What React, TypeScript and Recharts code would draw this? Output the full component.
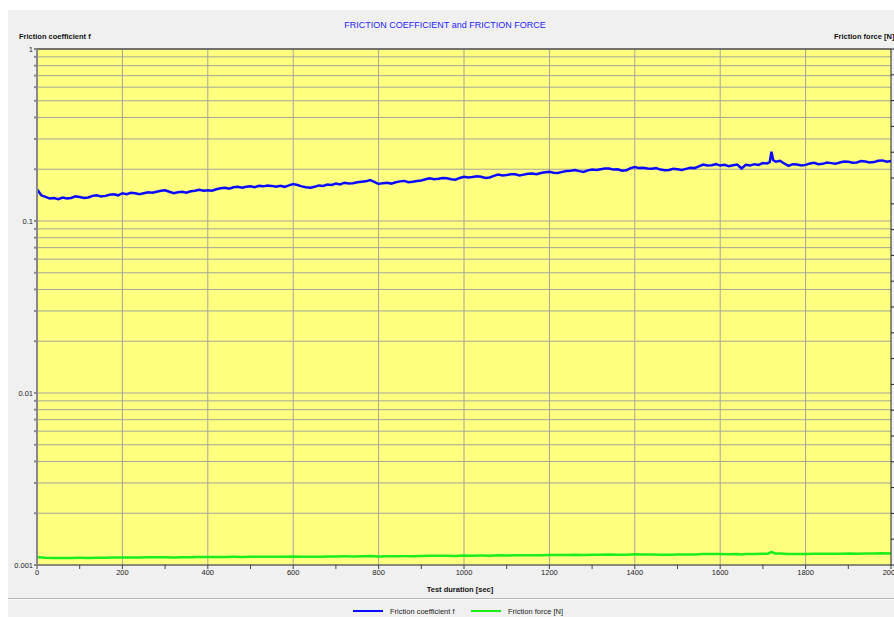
import {
	LineChart,
	Line,
	XAxis,
	YAxis,
	CartesianGrid,
	ReferenceLine,
} from "recharts";

// sample times [sec] for the friction coefficient trace
const coefSeconds = [
	0, 10, 20, 30, 40, 50, 60, 70, 80, 90, 100, 110, 120, 130, 140, 150, 160, 170, 180, 190,
	200, 210, 220, 230, 240, 250, 260, 270, 280, 290, 300, 310, 320, 330, 340, 350, 360, 370, 380, 390,
	400, 410, 420, 430, 440, 450, 460, 470, 480, 490, 500, 510, 520, 530, 540, 550, 560, 570, 580, 590,
	600, 610, 620, 630, 640, 650, 660, 670, 680, 690, 700, 710, 720, 730, 740, 750, 760, 770, 780, 790,
	800, 810, 820, 830, 840, 850, 860, 870, 880, 890, 900, 910, 920, 930, 940, 950, 960, 970, 980, 990,
	1000, 1010, 1020, 1030, 1040, 1050, 1060, 1070, 1080, 1090, 1100, 1110, 1120, 1130, 1140, 1150, 1160, 1170, 1180, 1190,
	1200, 1210, 1220, 1230, 1240, 1250, 1260, 1270, 1280, 1290, 1300, 1310, 1320, 1330, 1340, 1350, 1360, 1370, 1380, 1390,
	1400, 1410, 1420, 1430, 1440, 1450, 1460, 1470, 1480, 1490, 1500, 1510, 1520, 1530, 1540, 1550, 1560, 1570, 1580, 1590,
	1600, 1610, 1620, 1630, 1640, 1650, 1660, 1670, 1680, 1690, 1700, 1710, 1716, 1720, 1724, 1730, 1740, 1750, 1760, 1770,
	1780, 1790, 1800, 1810, 1820, 1830, 1840, 1850, 1860, 1870, 1880, 1890, 1900, 1910, 1920, 1930, 1940, 1950, 1960, 1970,
	1980, 1990, 2000,
];

const frictionCoefficient = [
	0.153, 0.141, 0.138, 0.135, 0.136, 0.134, 0.137, 0.135, 0.136, 0.139, 0.138, 0.136, 0.137, 0.14, 0.141, 0.139, 0.14, 0.142, 0.143, 0.141,
	0.145, 0.143, 0.146, 0.145, 0.143, 0.145, 0.147, 0.146, 0.148, 0.15, 0.151, 0.148, 0.145, 0.147, 0.148, 0.146, 0.149, 0.15, 0.152, 0.15,
	0.151, 0.15, 0.153, 0.155, 0.156, 0.154, 0.157, 0.158, 0.156, 0.158, 0.159, 0.157, 0.16, 0.159, 0.161, 0.16, 0.158, 0.16, 0.158, 0.161,
	0.164, 0.162, 0.159, 0.157, 0.156, 0.158, 0.161, 0.16, 0.163, 0.162, 0.165, 0.163, 0.167, 0.165, 0.166, 0.168, 0.169, 0.17, 0.173, 0.169,
	0.164, 0.166, 0.167, 0.165, 0.168, 0.17, 0.171, 0.168, 0.169, 0.171, 0.172, 0.175, 0.177, 0.175, 0.176, 0.178, 0.177, 0.175, 0.174, 0.178,
	0.181, 0.179, 0.18, 0.182, 0.181, 0.178, 0.179, 0.183, 0.186, 0.184, 0.185, 0.187, 0.187, 0.184, 0.186, 0.188, 0.189, 0.187, 0.19, 0.192,
	0.193, 0.191, 0.19, 0.193, 0.195, 0.196, 0.198, 0.195, 0.193, 0.197, 0.199, 0.198, 0.2, 0.202, 0.202, 0.199, 0.2, 0.196, 0.197, 0.203,
	0.206, 0.203, 0.204, 0.202, 0.201, 0.203, 0.199, 0.197, 0.198, 0.201, 0.2, 0.198, 0.201, 0.204, 0.203, 0.208, 0.213, 0.21, 0.211, 0.214,
	0.21, 0.212, 0.208, 0.211, 0.213, 0.202, 0.212, 0.21, 0.214, 0.212, 0.217, 0.216, 0.22, 0.253, 0.226, 0.221, 0.224, 0.216, 0.209, 0.214,
	0.213, 0.21, 0.212, 0.216, 0.218, 0.214, 0.215, 0.219, 0.217, 0.215, 0.219, 0.222, 0.221, 0.218, 0.219, 0.223, 0.222, 0.219, 0.22, 0.224,
	0.225, 0.221, 0.223,
];

// sample times [sec] for the friction force trace
const forceSeconds = [
	0, 20, 40, 60, 80, 100, 120, 140, 160, 180, 200, 220, 240, 260, 280, 300, 320, 340, 360, 380,
	400, 420, 440, 460, 480, 500, 520, 540, 560, 580, 600, 620, 640, 660, 680, 700, 720, 740, 760, 780,
	800, 820, 840, 860, 880, 900, 920, 940, 960, 980, 1000, 1020, 1040, 1060, 1080, 1100, 1120, 1140, 1160, 1180,
	1200, 1220, 1240, 1260, 1280, 1300, 1320, 1340, 1360, 1380, 1400, 1420, 1440, 1460, 1480, 1500, 1520, 1540, 1560, 1580,
	1600, 1620, 1640, 1650, 1660, 1680, 1700, 1712, 1720, 1728, 1740, 1760, 1780, 1800, 1820, 1840, 1860, 1880, 1900, 1920,
	1940, 1960, 1980, 2000,
];

// friction force [N], right axis
const frictionForce = [
	1.52, 1.4, 1.38, 1.38, 1.37, 1.39, 1.38, 1.41, 1.41, 1.44, 1.46, 1.47, 1.45, 1.48, 1.5, 1.52, 1.47, 1.49, 1.5, 1.53,
	1.53, 1.55, 1.57, 1.58, 1.57, 1.6, 1.61, 1.62, 1.6, 1.6, 1.65, 1.61, 1.58, 1.62, 1.64, 1.66, 1.68, 1.67, 1.7, 1.74,
	1.66, 1.69, 1.7, 1.72, 1.71, 1.74, 1.78, 1.77, 1.78, 1.76, 1.82, 1.81, 1.82, 1.81, 1.87, 1.86, 1.88, 1.87, 1.9, 1.91,
	1.94, 1.92, 1.96, 1.99, 1.95, 2.0, 2.01, 2.03, 2.01, 1.99, 2.07, 2.05, 2.03, 2.01, 2.0, 2.02, 2.03, 2.05, 2.14, 2.12,
	2.12, 2.1, 2.14, 2.05, 2.13, 2.15, 2.18, 2.2, 2.52, 2.23, 2.25, 2.11, 2.14, 2.14, 2.19, 2.17, 2.18, 2.2, 2.22, 2.2,
	2.23, 2.21, 2.26, 2.24,
];

const xTicks = [
	0, 100, 200, 300, 400, 500, 600, 700, 800, 900, 1000, 1100, 1200, 1300, 1400, 1500, 1600, 1700, 1800, 1900, 2000,
];
const xGrid = [200, 400, 600, 800, 1000, 1200, 1400, 1600, 1800];
const logTicks = [
	0.001, 0.002, 0.003, 0.004, 0.005, 0.006, 0.007, 0.008, 0.009,
	0.01, 0.02, 0.03, 0.04, 0.05, 0.06, 0.07, 0.08, 0.09,
	0.1, 0.2, 0.3, 0.4, 0.5, 0.6, 0.7, 0.8, 0.9, 1,
];
const decadeLabels = ["0.001", "0.01", "0.1", "1"];
const forceTicks = [0, 5, 10, 15, 20, 25, 30, 35, 40, 45, 50, 55, 60, 65, 70, 75, 80, 85, 90, 95, 100];

const seriesNames = ["Friction coefficient f", "Friction force [N]"];
const seriesColors = ["#0a0aff", "#1aee1a"];

const coefData = coefSeconds.map((t, i) => ({ t, f: frictionCoefficient[i] }));
const forceData = forceSeconds.map((t, i) => ({ t, force: frictionForce[i] }));

const font = "'Liberation Sans', Arial, sans-serif";
const tickStyle = { fontSize: 7.5, fill: "#222", fontFamily: font };

const fmtLog = (v: number) => {
	const s = String(v);
	return decadeLabels.includes(s) ? s : "";
};

export default function App() {
	return (
		<div
			style={{
				position: "absolute",
				left: 8,
				top: 10,
				width: 886,
				height: 607,
				background: "#f0f0f0",
				overflow: "hidden",
				fontFamily: font,
			}}
		>
			<div
				style={{
					position: "absolute",
					left: 0,
					width: 874,
					top: 10,
					textAlign: "center",
					fontSize: 9,
					color: "#1e1eff",
				}}
			>
				FRICTION COEFFICIENT and FRICTION FORCE
			</div>
			<div style={{ position: "absolute", left: 11, top: 22, fontSize: 7.5, fontWeight: "bold", color: "#111" }}>
				Friction coefficient f
			</div>
			<div
				style={{
					position: "absolute",
					left: 826,
					top: 22,
					fontSize: 7.5,
					fontWeight: "bold",
					color: "#111",
					whiteSpace: "nowrap",
				}}
			>
				Friction force [N]
			</div>

			<div style={{ position: "absolute", left: 0, top: 0 }}>
				<LineChart width={886} height={589} margin={{ top: 39, right: 0, left: 4, bottom: 0 }}>
					<CartesianGrid
						xAxisId="x"
						yAxisId="left"
						vertical={false}
						stroke="#a4a49a"
						fill="#ffff80"
						fillOpacity={1}
					/>
					<XAxis
						xAxisId="x"
						dataKey="t"
						type="number"
						domain={[0, 2000]}
						ticks={xTicks}
						interval={0}
						tickFormatter={(v: number) => (v % 200 === 0 ? String(v) : "")}
						tick={tickStyle}
						tickSize={4}
						tickMargin={1}
						stroke="#444"
						height={34}
						allowDuplicatedCategory={false}
					/>
					<YAxis
						yAxisId="left"
						scale="log"
						type="number"
						domain={[0.001, 1]}
						allowDataOverflow
						ticks={logTicks}
						interval={0}
						tickFormatter={fmtLog}
						tick={tickStyle}
						tickSize={3}
						tickMargin={1}
						stroke="#888"
						strokeWidth={2}
						width={25}
					/>
					<YAxis
						yAxisId="right"
						orientation="right"
						type="number"
						domain={[0, 100]}
						ticks={forceTicks}
						interval={0}
						tickFormatter={() => ""}
						tickSize={3}
						stroke="#222"
						width={3}
					/>
					{xGrid.map((v) => (
						<ReferenceLine key={v} xAxisId="x" yAxisId="left" x={v} stroke="#a4a49a" />
					))}
					<ReferenceLine xAxisId="x" yAxisId="left" y={1} stroke="#555" strokeWidth={1.5} />
					<Line
						data={coefData}
						xAxisId="x"
						yAxisId="left"
						dataKey="f"
						name={seriesNames[0]}
						stroke={seriesColors[0]}
						strokeWidth={2.5}
						dot={false}
						type="linear"
						isAnimationActive={false}
					/>
					<Line
						data={forceData}
						xAxisId="x"
						yAxisId="right"
						dataKey="force"
						name={seriesNames[1]}
						stroke={seriesColors[1]}
						strokeWidth={2.5}
						dot={false}
						type="linear"
						isAnimationActive={false}
					/>
				</LineChart>
			</div>

			<div
				style={{
					position: "absolute",
					left: 352,
					width: 200,
					top: 575,
					textAlign: "center",
					fontSize: 7.5,
					fontWeight: "bold",
					color: "#111",
				}}
			>
				Test duration [sec]
			</div>
			<div style={{ position: "absolute", left: 0, right: 0, top: 588, height: 1, background: "#b8b8b8" }} />
			<div style={{ position: "absolute", left: 0, right: 0, top: 589, height: 1, background: "#fafafa" }} />

			{seriesNames.map((name, i) => (
				<div
					key={name}
					style={{
						position: "absolute",
						left: i === 0 ? 345 : 463,
						top: 596,
						display: "flex",
						alignItems: "center",
						fontSize: 7.5,
						color: "#222",
						whiteSpace: "nowrap",
					}}
				>
					<svg width={30} height={10} style={{ marginRight: 7 }}>
						<line x1={0} y1={5} x2={30} y2={5} stroke={seriesColors[i]} strokeWidth={2} />
					</svg>
					{name}
				</div>
			))}
		</div>
	);
}
